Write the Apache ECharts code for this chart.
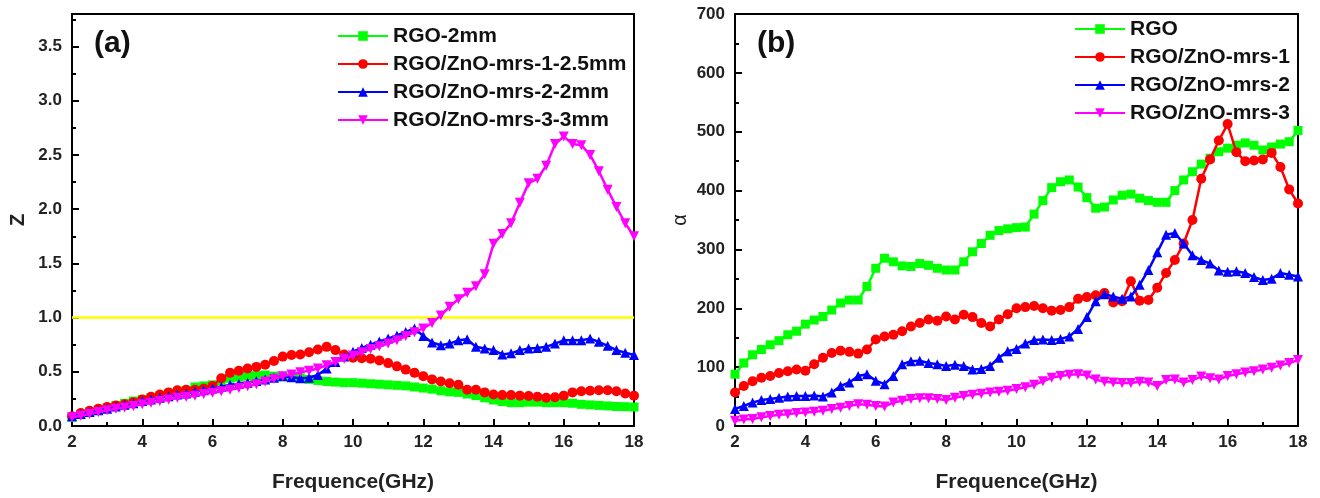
<!DOCTYPE html>
<html>
<head>
    <meta charset="utf-8">
    <title>Z and alpha vs frequency</title>
    <script src="https://cdn.jsdelivr.net/npm/echarts@6/dist/echarts.min.js"></script>
</head>
<style>
  body { margin: 0; background: #fff; }
</style>
<body>
    <div id="main" style="width: 1320px;height:498px;"></div>
    <script type="text/javascript">
    // frequency points (GHz), shared by every curve
    var freq = [2, 2.25, 2.5, 2.75, 3, 3.25, 3.5, 3.75, 4, 4.25, 4.5, 4.75, 5, 5.25, 5.5, 5.75,
        6, 6.25, 6.5, 6.75, 7, 7.25, 7.5, 7.75, 8, 8.25, 8.5, 8.75, 9, 9.25, 9.5, 9.75,
        10, 10.25, 10.5, 10.75, 11, 11.25, 11.5, 11.75, 12, 12.25, 12.5, 12.75, 13, 13.25, 13.5, 13.75,
        14, 14.25, 14.5, 14.75, 15, 15.25, 15.5, 15.75, 16, 16.25, 16.5, 16.75, 17, 17.25, 17.5, 17.75, 18];

    // (a) impedance matching Z
    var zNames = ['RGO-2mm', 'RGO/ZnO-mrs-1-2.5mm', 'RGO/ZnO-mrs-2-2mm', 'RGO/ZnO-mrs-3-3mm'];
    var zRGO = [0.08, 0.11, 0.13, 0.15, 0.17, 0.19, 0.21, 0.23, 0.245, 0.26, 0.28, 0.30, 0.315, 0.33, 0.36, 0.37,
        0.38, 0.41, 0.44, 0.45, 0.46, 0.465, 0.47, 0.46, 0.455, 0.45, 0.445, 0.43, 0.42, 0.41, 0.405, 0.40,
        0.40, 0.395, 0.39, 0.385, 0.38, 0.375, 0.37, 0.36, 0.35, 0.34, 0.325, 0.315, 0.31, 0.295, 0.28, 0.26,
        0.24, 0.225, 0.215, 0.215, 0.22, 0.22, 0.215, 0.215, 0.215, 0.21, 0.20, 0.195, 0.19, 0.185, 0.18, 0.178, 0.175];
    var zMrs1 = [0.09, 0.12, 0.14, 0.16, 0.175, 0.19, 0.20, 0.22, 0.245, 0.27, 0.29, 0.31, 0.33, 0.335, 0.335, 0.345,
        0.37, 0.44, 0.49, 0.51, 0.53, 0.545, 0.565, 0.60, 0.64, 0.655, 0.66, 0.68, 0.705, 0.73, 0.70, 0.66,
        0.63, 0.625, 0.62, 0.605, 0.58, 0.55, 0.52, 0.49, 0.46, 0.43, 0.41, 0.395, 0.38, 0.335, 0.335, 0.31,
        0.29, 0.285, 0.285, 0.28, 0.276, 0.27, 0.26, 0.265, 0.28, 0.31, 0.32, 0.325, 0.33, 0.33, 0.32, 0.30, 0.28];
    var zMrs2 = [0.09, 0.11, 0.13, 0.145, 0.16, 0.18, 0.195, 0.21, 0.23, 0.245, 0.26, 0.275, 0.29, 0.30, 0.315, 0.33,
        0.345, 0.36, 0.38, 0.39, 0.40, 0.415, 0.43, 0.445, 0.46, 0.45, 0.44, 0.445, 0.47, 0.53, 0.59, 0.64,
        0.685, 0.72, 0.75, 0.78, 0.806, 0.835, 0.867, 0.9, 0.83, 0.77, 0.745, 0.76, 0.79, 0.80, 0.73, 0.715,
        0.70, 0.66, 0.67, 0.70, 0.715, 0.72, 0.73, 0.76, 0.79, 0.79, 0.79, 0.806, 0.776, 0.74, 0.70, 0.675, 0.655];
    var zMrs3 = [0.08, 0.095, 0.11, 0.13, 0.145, 0.16, 0.17, 0.185, 0.2, 0.215, 0.23, 0.245, 0.26, 0.27, 0.28, 0.295,
        0.306, 0.32, 0.335, 0.35, 0.367, 0.385, 0.41, 0.435, 0.46, 0.475, 0.495, 0.51, 0.53, 0.56, 0.59, 0.62,
        0.65, 0.68, 0.71, 0.735, 0.76, 0.79, 0.83, 0.865, 0.9, 0.95, 1.02, 1.1, 1.17, 1.23, 1.29, 1.4,
        1.68, 1.77, 1.87, 2.06, 2.24, 2.28, 2.4, 2.6, 2.67, 2.6, 2.59, 2.5, 2.35, 2.18, 2.02, 1.87, 1.75];

    // (b) attenuation constant alpha
    var aNames = ['RGO', 'RGO/ZnO-mrs-1', 'RGO/ZnO-mrs-2', 'RGO/ZnO-mrs-3'];
    var aRGO = [88, 107, 121, 130, 138, 145, 155, 161, 173, 180, 186, 197, 209, 214, 214, 237,
        268, 285, 279, 272, 271, 276, 273, 268, 265, 265, 279, 296, 310, 324, 332, 335,
        337, 338, 360, 383, 405, 415, 418, 406, 388, 370, 372, 384, 392, 394, 387, 383,
        380, 380, 400, 418, 432, 445, 455, 466, 472, 477, 481, 477, 469, 474, 479, 483, 502];
    var aMrs1 = [57, 68, 76, 82, 85, 90, 93, 96, 94, 105, 116, 124, 128, 126, 123, 130,
        147, 152, 155, 161, 169, 175, 181, 179, 186, 181, 189, 185, 175, 169, 181, 190,
        200, 202, 204, 200, 196, 197, 202, 216, 219, 222, 226, 210, 212, 246, 213, 214,
        235, 260, 282, 310, 350, 420, 453, 485, 513, 465, 450, 451, 453, 464, 440, 402, 378];
    var aMrs2 = [29, 34, 40, 44, 46, 48, 50, 51, 51, 52, 50, 57, 68, 74, 85, 88,
        77, 71, 85, 105, 110, 111, 107, 105, 102, 104, 102, 96, 97, 102, 116, 127,
        131, 140, 146, 147, 146, 148, 152, 165, 185, 212, 224, 220, 216, 220, 240, 265,
        295, 325, 328, 310, 290, 282, 276, 264, 262, 263, 260, 253, 248, 250, 260, 257, 254];
    var aMrs3 = [9, 11, 12, 15, 17, 19, 20, 22, 23, 24, 26, 29, 31, 34, 37, 36,
        34, 33, 40, 43, 46, 47, 47, 46, 44, 48, 51, 53, 55, 57, 58, 60,
        63, 66, 70, 76, 82, 85, 87, 88, 86, 79, 75, 74, 73, 73, 75, 74,
        68, 78, 79, 74, 78, 84, 81, 79, 85, 88, 91, 93, 96, 99, 103, 107, 112];

    var colors = ['#00ff00', '#ff0000', '#0000ff', '#ff00ff'];
    var symbols = ['rect', 'circle', 'triangle', 'path://M0,0 L10,0 L5,9 Z'];
    var font = '"Liberation Sans", Arial, sans-serif';

    function pairs(vals) {
        var out = [];
        for (var i = 0; i < freq.length; i++) out.push([freq[i], vals[i]]);
        return out;
    }

    function makeSeries(name, vals, k, idx) {
        return {
            name: name,
            type: 'line',
            xAxisIndex: idx,
            yAxisIndex: idx,
            data: pairs(vals),
            symbol: symbols[k],
            symbolSize: k == 0 ? 9 : 10,
            showAllSymbol: true,
            lineStyle: { color: colors[k], width: 2.5 },
            itemStyle: { color: colors[k] },
            z: 2 + k
        };
    }

    function xAx(idx) {
        return {
            type: 'value', gridIndex: idx, min: 2, max: 18, interval: 2,
            name: 'Frequence(GHz)', nameLocation: 'middle', nameGap: 46,
            nameTextStyle: { fontFamily: font, fontWeight: 'bold', fontSize: 21, color: '#222' },
            axisLine: { onZero: false, lineStyle: { color: '#000', width: 2 } },
            axisTick: { inside: true, length: 7, lineStyle: { color: '#000', width: 2 } },
            minorTick: { show: true, splitNumber: 2, length: 4, lineStyle: { color: '#000', width: 2 } },
            axisLabel: { fontFamily: font, fontWeight: 'bold', fontSize: 17, color: '#222', margin: 8 },
            splitLine: { show: false }
        };
    }

    var series = [];
    var zv = [zRGO, zMrs1, zMrs2, zMrs3];
    var av = [aRGO, aMrs1, aMrs2, aMrs3];
    for (var k = 0; k < 4; k++) series.push(makeSeries(zNames[k], zv[k], k, 0));
    for (var k = 0; k < 4; k++) series.push(makeSeries(aNames[k], av[k], k, 1));
    // Z = 1 reference line
    series[0].markLine = {
        silent: true, symbol: 'none', label: { show: false },
        lineStyle: { color: '#ffff00', width: 2.5, type: 'solid' },
        data: [{ yAxis: 1 }]
    };

    var legendBase = {
        orient: 'vertical', itemWidth: 50, itemHeight: 12, itemGap: 6,
        textStyle: { fontFamily: font, fontWeight: 'bold', fontSize: 21, color: '#111', lineHeight: 22 }
    };

    var myChart = echarts.init(document.getElementById('main'));
    var option = {
        animation: false,
        backgroundColor: '#fff',
        grid: [
            { left: 72, top: 14, width: 562, height: 418, show: true, borderColor: '#000', borderWidth: 2 },
            { left: 735, top: 14, width: 563, height: 418, show: true, borderColor: '#000', borderWidth: 2 }
        ],
        legend: [
            Object.assign({ data: zNames, left: 332, top: 20 }, legendBase),
            Object.assign({ data: aNames, left: 1069, top: 13 }, legendBase)
        ],
        graphic: [
            { type: 'text', left: 94, top: 29, style: { text: '(a)', font: 'bold 30px "Liberation Sans", Arial', fill: '#111' } },
            { type: 'text', left: 757, top: 29, style: { text: '(b)', font: 'bold 30px "Liberation Sans", Arial', fill: '#111' } }
        ],
        xAxis: [xAx(0), xAx(1)],
        yAxis: [
            {
                type: 'value', gridIndex: 0, min: 0, max: 3.8, interval: 0.5,
                name: 'Z', nameLocation: 'middle', nameGap: 44, nameRotate: 90,
                nameTextStyle: { fontFamily: font, fontWeight: 'bold', fontSize: 20, color: '#222' },
                axisLine: { lineStyle: { color: '#000', width: 2 } },
                axisTick: { inside: true, length: 7, lineStyle: { color: '#000', width: 2 } },
                minorTick: { show: true, splitNumber: 2, length: 4, lineStyle: { color: '#000', width: 2 } },
                axisLabel: {
                    fontFamily: font, fontWeight: 'bold', fontSize: 17, color: '#222', margin: 10, showMaxLabel: false,
                    formatter: function (v) { return v.toFixed(1); }
                },
                splitLine: { show: false }
            },
            {
                type: 'value', gridIndex: 1, min: 0, max: 700, interval: 100,
                name: 'α', nameLocation: 'middle', nameGap: 45, nameRotate: 90,
                nameTextStyle: { fontFamily: font, fontSize: 20, color: '#222' },
                axisLine: { lineStyle: { color: '#000', width: 2 } },
                axisTick: { inside: true, length: 7, lineStyle: { color: '#000', width: 2 } },
                minorTick: { show: true, splitNumber: 2, length: 4, lineStyle: { color: '#000', width: 2 } },
                axisLabel: { fontFamily: font, fontWeight: 'bold', fontSize: 17, color: '#222', margin: 10 },
                splitLine: { show: false }
            }
        ],
        series: series
    };
    myChart.setOption(option);
    </script>
</body>
</html>
